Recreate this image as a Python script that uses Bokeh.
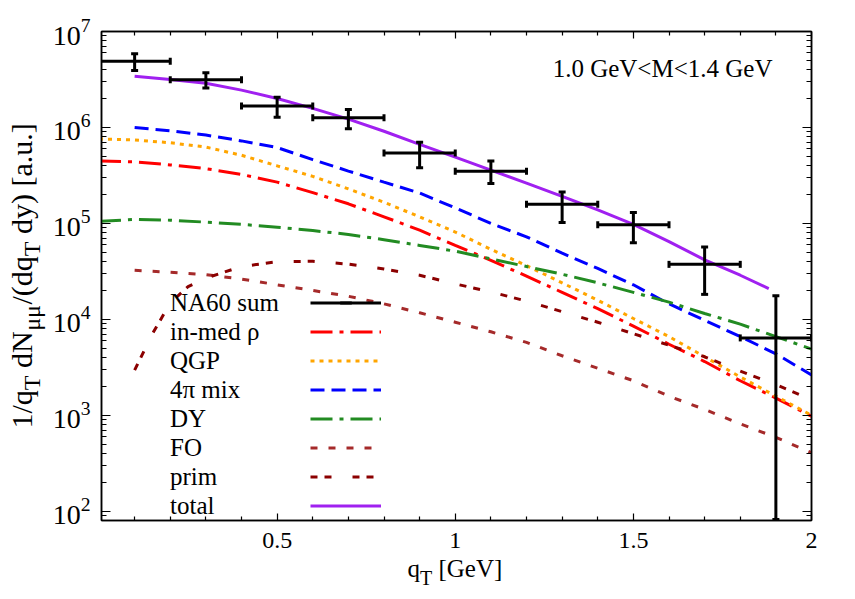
import math
from bokeh.plotting import figure
from bokeh.models import (Range1d, LogAxis, LinearAxis, LinearScale, FixedTicker,
                          CustomJSTickFormatter, Legend, LegendItem, Label)
from bokeh.embed import file_html
from bokeh.resources import INLINE

# ---------------- data ----------------
q_full = [0.0, 0.1, 0.2, 0.3, 0.4, 0.5, 0.6, 0.7, 0.8, 0.9, 1.0,
          1.1, 1.2, 1.3, 1.4, 1.5, 1.6, 1.7, 1.8, 1.9, 2.0]
q_from01 = [0.1, 0.2, 0.3, 0.4, 0.5, 0.6, 0.7, 0.8, 0.9, 1.0,
            1.1, 1.2, 1.3, 1.4, 1.5, 1.6, 1.7, 1.8, 1.9, 2.0]
q_prim = [0.1, 0.15, 0.2, 0.25, 0.3, 0.4, 0.5, 0.6, 0.7, 0.8, 0.9, 1.0,
          1.1, 1.2, 1.3, 1.4, 1.5, 1.6, 1.7, 1.8, 1.9, 2.0]
q_total = [0.1, 0.2, 0.3, 0.4, 0.5, 0.6, 0.7, 0.8, 0.9, 1.0,
           1.1, 1.2, 1.3, 1.4, 1.5, 1.6, 1.7, 1.8, 1.88]

in_med_rho = [4.47e5, 4.37e5, 4.07e5, 3.72e5, 3.24e5, 2.69e5, 2.09e5, 1.60e5,
              1.17e5, 8.51e4, 5.89e4, 4.12e4, 2.82e4, 1.91e4, 1.29e4, 8.51e3,
              5.50e3, 3.63e3, 2.29e3, 1.51e3, 9.77e2]
qgp = [7.59e5, 7.41e5, 6.92e5, 6.24e5, 5.13e5, 3.98e5, 3.09e5, 2.29e5,
       1.66e5, 1.17e5, 8.13e4, 5.37e4, 3.63e4, 2.40e4, 1.58e4, 1.02e4,
       6.61e3, 4.07e3, 2.51e3, 1.58e3, 1.00e3]
drell_yan = [1.05e5, 1.10e5, 1.08e5, 1.03e5, 9.77e4, 9.12e4, 8.41e4, 7.67e4,
             6.76e4, 5.89e4, 5.13e4, 4.27e4, 3.55e4, 2.95e4, 2.40e4, 1.91e4,
             1.51e4, 1.15e4, 8.91e3, 6.61e3, 4.90e3]
mix4pi = [1.00e6, 9.23e5, 8.32e5, 7.24e5, 6.17e5, 4.62e5, 3.51e5, 2.69e5,
          2.07e5, 1.45e5, 1.00e5, 7.24e4, 4.90e4, 3.39e4, 2.29e4, 1.45e4,
          9.77e3, 6.61e3, 4.37e3, 2.63e3]
freeze_out = [3.24e4, 3.09e4, 2.92e4, 2.63e4, 2.29e4, 2.00e4, 1.74e4, 1.45e4,
              1.17e4, 9.33e3, 7.41e3, 5.75e3, 4.17e3, 3.09e3, 2.29e3, 1.58e3,
              1.15e3, 8.13e2, 5.89e2, 4.07e2]
primordial = [2.95e3, 7.08e3, 1.48e4, 2.19e4, 2.69e4, 3.55e4, 3.98e4, 4.03e4,
              3.76e4, 3.35e4, 2.88e4, 2.34e4, 1.93e4, 1.55e4, 1.20e4, 9.33e3,
              7.08e3, 5.37e3, 4.07e3, 2.88e3, 2.09e3, 1.45e3]
total = [3.42e6, 3.16e6, 2.89e6, 2.45e6, 2.00e6, 1.58e6, 1.22e6, 9.12e5,
         6.65e5, 4.90e5, 3.59e5, 2.63e5, 1.91e5, 1.38e5, 9.77e4, 6.46e4,
         4.17e4, 2.88e4, 2.09e4]

na60_q = [0.1, 0.3, 0.5, 0.7, 0.9, 1.1, 1.3, 1.5, 1.7, 1.9]
na60_y = [4.90e6, 3.14e6, 1.67e6, 1.26e6, 5.40e5, 3.50e5, 1.58e5, 9.70e4, 3.74e4, 6.40e3]
na60_hi = [5.86e6, 3.72e6, 2.07e6, 1.54e6, 7.00e5, 4.46e5, 2.12e5, 1.30e5, 5.66e4, 1.76e4]
na60_lo = [3.93e6, 2.57e6, 1.28e6, 9.70e5, 3.80e5, 2.61e5, 1.02e5, 6.30e4, 1.82e4, 8.2e1]
na60_halfbin = [0.1, 0.1, 0.1, 0.1, 0.1, 0.1, 0.1, 0.1, 0.1, 0.1]

x_major = [0.5, 1.0, 1.5, 2.0]
x_minor = [0.1, 0.2, 0.3, 0.4, 0.6, 0.7, 0.8, 0.9, 1.1, 1.2, 1.3, 1.4,
           1.6, 1.7, 1.8, 1.9]
y_major = [1e2, 1e3, 1e4, 1e5, 1e6, 1e7]
y_minor = [k * 10 ** n for n in range(1, 7) for k in range(2, 10)]

legend_names = ["NA60 sum", "in-med ρ", "QGP", "4π mix", "DY", "FO", "prim", "total"]

# ---------------- layout constants ----------------
BL, BR, BT, BB = 101, 36, 31, 76
FW, FH = 710, 489
W, H = BL + FW + BR, BT + FH + BB
FL, FT = BL, BT                         # frame position on the page
X0, X1 = 0.007, 2.0
Y0, Y1 = 80.0, 1e7
SERIF = "Liberation Serif"


def dx(px):
    return X0 + (px - FL) / FW * (X1 - X0)


def dy(py):
    l0, l1 = math.log10(Y0), math.log10(Y1)
    return 10 ** (l0 + (FT + FH - py) / FH * (l1 - l0))


p = figure(width=W, height=H, x_range=Range1d(X0, X1), y_range=Range1d(Y0, Y1),
           y_axis_type="log", output_backend="svg", toolbar_location=None,
           min_border_left=BL, min_border_right=BR, min_border_top=BT,
           min_border_bottom=BB, background_fill_color="white",
           border_fill_color="white")
p.grid.visible = False
p.outline_line_color = "black"
p.outline_line_width = 1.5
# pixel ranges used only to place the pieces of the axis titles
p.extra_x_ranges = {"xpx": Range1d(0, FW)}
p.extra_x_scales = {"xpx": LinearScale()}
p.extra_y_ranges = {"ypx": Range1d(0, FH)}
p.extra_y_scales = {"ypx": LinearScale()}

# bottom axis
xa = p.xaxis[0]
xa.ticker = FixedTicker(ticks=x_major, minor_ticks=x_minor)
xa.formatter = CustomJSTickFormatter(code="return String(tick);")
# left axis
ya = p.yaxis[0]
ya.ticker = FixedTicker(ticks=y_major, minor_ticks=y_minor)

top_ax = LinearAxis(ticker=FixedTicker(ticks=x_major, minor_ticks=x_minor),
                    formatter=CustomJSTickFormatter(code="return '';"))
right_ax = LogAxis(ticker=FixedTicker(ticks=y_major, minor_ticks=y_minor),
                   formatter=CustomJSTickFormatter(code="return '';"))
p.add_layout(top_ax, "above")
p.add_layout(right_ax, "right")

for ax in (xa, top_ax):
    ax.major_tick_in = 7
    ax.major_tick_out = 0
    ax.minor_tick_in = 4
    ax.minor_tick_out = 0
for ax in (ya, right_ax):
    ax.major_tick_in = 9
    ax.major_tick_out = 0
    ax.minor_tick_in = 5
    ax.minor_tick_out = 0
for ax in (xa, ya, top_ax, right_ax):
    ax.axis_line_width = 1.5
    ax.major_tick_line_width = 1.2
    ax.minor_tick_line_width = 1.2
    ax.major_label_text_font = SERIF
    ax.major_label_text_color = "black"
xa.major_label_text_font_size = "24px"
xa.major_label_standoff = 12
ya.major_label_text_font_size = "28px"
ya.major_label_standoff = 11

# ---------------- curves ----------------
LW = 3
r_rho = p.line(q_full, in_med_rho, line_color="#ff0000", line_width=LW, line_dash="22 7 4 7")
r_qgp = p.line(q_full, qgp, line_color="#ffa500", line_width=LW, line_dash="4 5")
r_mix = p.line(q_from01, mix4pi, line_color="#0000ff", line_width=LW, line_dash="14 7")
r_dy = p.line(q_full, drell_yan, line_color="#228b22", line_width=LW, line_dash="22 7 4 7")
r_fo = p.line(q_from01, freeze_out, line_color="#a52a2a", line_width=LW, line_dash="7 11")
r_prim = p.line(q_prim, primordial, line_color="#8b0000", line_width=LW, line_dash="7 7 7 21")
r_tot = p.line(q_total, total, line_color="#a020f0", line_width=LW)

# ---------------- NA60 data with error bars ----------------
xlo = [q - h for q, h in zip(na60_q, na60_halfbin)]
xhi = [q + h for q, h in zip(na60_q, na60_halfbin)]
r_hbar = p.segment(x0=xlo, y0=na60_y, x1=xhi, y1=na60_y, line_color="black", line_width=3)
r_vbar = p.segment(x0=na60_q, y0=na60_lo, x1=na60_q, y1=na60_hi, line_color="black", line_width=3)
r_hcap = p.scatter(x=xlo + xhi, y=na60_y + na60_y, marker="dash", size=7,
                   angle=math.pi / 2, line_color="black", line_width=3)
r_vcap = p.scatter(x=na60_q + na60_q, y=na60_lo + na60_hi, marker="dash", size=7,
                   line_color="black", line_width=3)

renderer_groups = [[r_hbar, r_hcap], [r_rho], [r_qgp], [r_mix], [r_dy], [r_fo], [r_prim], [r_tot]]

# legend: labels (left column) and line samples (right column)
common = dict(glyph_height=29, label_height=29, spacing=0, padding=0, margin=0,
              label_standoff=0, border_line_alpha=0, background_fill_alpha=0,
              label_text_font=SERIF, label_text_font_size="25px",
              label_text_color="black")
leg_text = Legend(items=[LegendItem(label=n, renderers=rs)
                         for n, rs in zip(legend_names, renderer_groups)],
                  location=(170 - FL, 0), glyph_width=0, **common)
leg_lines = Legend(items=[LegendItem(label=" ", renderers=rs) for rs in renderer_groups],
                   location=(310 - FL, 0), glyph_width=71, **common)
p.add_layout(leg_text)
p.add_layout(leg_lines)

# ---------------- axis titles (with subscripts) ----------------
CW = {"1": .5, "/": .278, "q": .5, "T": .611, " ": .25, "d": .5, "N": .722,
      "μ": .56, "(": .333, ")": .333, "y": .5, "[": .333, "a": .444, ".": .25,
      "u": .5, "]": .333, "G": .722, "e": .444, "V": .722}


def tw(s, f):
    return sum(CW.get(c, .5) for c in s) * f


def layout_pieces(pieces, start, fmain, fsub):
    main_pos, main_txt, sub_pos, sub_txt = [], [], [], []
    pos = start
    for txt, sub, sp in pieces:
        f = fsub if sub else fmain
        w = tw(txt, f)
        if sub:
            sub_pos.append(pos + w / 2)
            sub_txt.append(txt)
        else:
            main_pos.append(pos + w / 2)
            main_txt.append(txt)
        pos += w + sp * 0.25 * fmain
    return main_pos, main_txt, sub_pos, sub_txt


def title_axis(cls, rng_key, rng_name, positions, texts, size, standoff, angle):
    kw = {rng_key: rng_name}
    ax = cls(ticker=FixedTicker(ticks=positions, minor_ticks=[]),
             formatter=CustomJSTickFormatter(args=dict(labels=texts),
                                             code="return labels[index];"),
             axis_line_color=None, major_tick_line_color=None,
             minor_tick_line_color=None, major_tick_in=0, major_tick_out=0,
             minor_tick_in=0, minor_tick_out=0,
             major_label_text_font=SERIF, major_label_text_font_size=f"{size}px",
             major_label_text_color="black", major_label_standoff=standoff,
             major_label_orientation=angle, **kw)
    return ax


# y title: written upward, starting 92 px above the frame bottom
YF, YS = 30, 24
ylab = [("1/q", False, 0), ("T", True, 1), ("dN", False, 0), ("μμ", True, 0),
        ("/(dq", False, 0), ("T", True, 1), ("dy) [a.u.]", False, 0)]
ym_pos, ym_txt, ys_pos, ys_txt = layout_pieces(ylab, 92.0, YF, YS)
ax_ysub = title_axis(LinearAxis, "y_range_name", "ypx", ys_pos, ys_txt, YS, 4, "vertical")
ax_ymain = title_axis(LinearAxis, "y_range_name", "ypx", ym_pos, ym_txt, YF, -22, "vertical")
p.add_layout(ax_ysub, "left")
p.add_layout(ax_ymain, "left")

# x title: starts 306 px right of the frame's left edge
XF, XS = 25, 20
xlab = [("q", False, 0), ("T", True, 1), ("[GeV]", False, 0)]
xm_pos, xm_txt, xs_pos, xs_txt = layout_pieces(xlab, 306.0, XF, XS)
ax_xmain = title_axis(LinearAxis, "x_range_name", "xpx", xm_pos, xm_txt, XF, 4, "horizontal")
ax_xsub = title_axis(LinearAxis, "x_range_name", "xpx", xs_pos, xs_txt, XS, -18, "horizontal")
p.add_layout(ax_xmain, "below")
p.add_layout(ax_xsub, "below")

p.add_layout(Label(x=dx(772), y=dy(68), text="1.0 GeV<M<1.4 GeV", text_align="right",
                   text_baseline="alphabetic", text_font=SERIF, text_font_size="25px",
                   text_color="black"))

open("out.html", "w").write(file_html(p, INLINE))
